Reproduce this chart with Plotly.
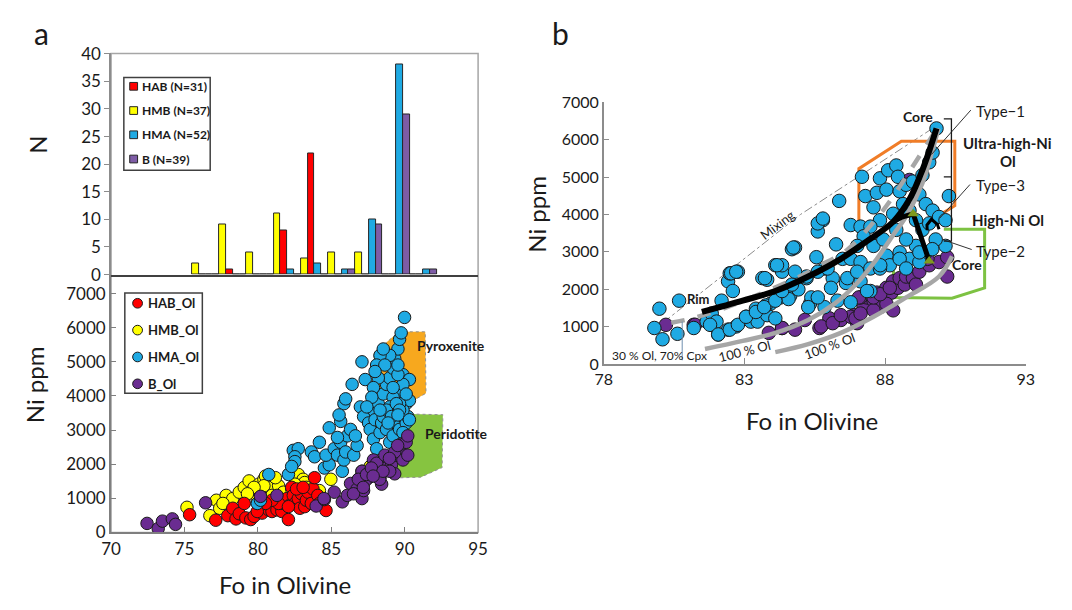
import plotly.graph_objects as go

W, H = 1072, 610
FONT = "Lato, 'Open Sans', sans-serif"

# ---------------- Panel a (top): histogram of Fo ----------------
hist_bins = [0, 1, 2, 3, 4, 5, 6, 7, 8]
hist_hmb = [2, 9, 4, 11, 3, 4, 4, 0, 0]
hist_hab = [0, 1, 0, 8, 22, 0, 0, 0, 0]
hist_hma = [0, 0, 0, 1, 2, 1, 10, 38, 1]
hist_b = [0, 0, 0, 0, 0, 1, 9, 29, 1]
hist_legend = ["HAB (N=31)", "HMB (N=37)", "HMA (N=52)", "B (N=39)"]

# ---------------- Panel a (bottom): Ni vs Fo ----------------
hab_fo = [75.35, 77.13, 77.95, 78.29, 78.51, 78.73, 79.07, 79.18, 79.51, 79.74,
          80.18, 80.29, 80.74, 80.96, 81.3, 81.63, 81.74, 81.97, 82.08, 82.19,
          82.3, 82.41, 82.52, 82.75, 82.86, 82.97, 83.19, 83.3, 83.41, 83.64,
          83.75, 83.86, 84.08, 84.19, 84.64, 82.63, 83.08, 81.41, 80.96, 80.52,
          79.96, 82.08]
hab_ni = [519, 358, 491, 708, 396, 547, 849, 425, 377, 472,
          755, 566, 660, 613, 660, 613, 849, 991, 377, 802,
          1321, 1085, 849, 991, 708, 1132, 755, 943, 1179, 849,
          1274, 1604, 1085, 849, 642, 1274, 1321, 849, 943, 849,
          613, 755]

hmb_fo = [75.17, 76.73, 77.17, 77.4, 77.84, 78.29, 78.73, 79.07, 79.4, 80.07,
          80.41, 80.52, 80.74, 80.96, 81.41, 81.74, 82.3, 82.75, 83.08, 84.19,
          84.97, 87.09, 86.87, 87.65, 80.52, 79.96, 83.19, 82.52, 81.19, 80.41,
          79.74, 79.29, 77.62, 83.3]
hmb_ni = [736, 491, 943, 708, 1085, 991, 1179, 1321, 1509, 1415,
          1557, 1651, 1321, 1085, 1368, 1179, 1274, 1698, 1557, 1226,
          1557, 1792, 1557, 1934, 849, 943, 1462, 1415, 1604, 1368,
          1321, 1132, 849, 1321]

hma_fo = [79.96, 80.74, 80.18, 82.08, 82.41, 82.75, 82.52, 82.52, 82.3, 83.64,
          83.86, 84.19, 84.53, 84.86, 84.64, 85.2, 85.42, 85.64, 85.75, 85.86,
          85.98, 86.09, 86.31, 86.53, 86.76, 86.64, 85.42, 84.86, 85.64, 85.86,
          85.98, 85.53, 86.42, 87.09, 87.31, 86.98, 87.2, 87.54, 87.65, 87.87,
          87.98, 87.87, 88.09, 88.32, 88.43, 88.54, 88.76, 88.98, 89.21, 89.43,
          89.65, 89.88, 90.1, 90.21, 88.2, 88.54, 88.76, 88.98, 89.21, 89.32,
          89.54, 89.65, 89.76, 89.99, 88.98, 88.32, 88.09, 88.65, 88.54, 88.2,
          87.87, 87.98, 89.43, 89.76, 90.1, 89.88, 90.32, 90.32, 89.88, 89.65,
          89.21, 88.98, 88.76, 88.32, 87.76, 87.42, 89.43, 89.88, 89.54, 89.54,
          89.21, 89.1, 89.65, 90.1, 88.87, 89.54, 89.88, 90.32]
hma_ni = [849, 1698, 943, 1698, 2406, 2453, 2217, 2075, 1934, 2358,
          2217, 2642, 1887, 1981, 2264, 2453, 2264, 2642, 1792, 2123,
          2358, 2830, 3019, 2264, 2547, 2830, 2783, 3066, 3255, 3774,
          3915, 3443, 4340, 5000, 4481, 3679, 3396, 3208, 3019, 3585,
          3302, 2736, 2453, 2925, 3208, 3396, 3019, 2642, 2830, 3208,
          3019, 3396, 3208, 3396, 3774, 4057, 4340, 4528, 4811, 5094,
          5377, 5660, 5849, 6302, 5189, 5189, 4906, 4906, 5377, 4528,
          4245, 4717, 4151, 4057, 3774, 4623, 4481, 3868, 3585, 3774,
          3962, 3679, 3585, 3585, 3962, 3679, 3774, 4340, 4623, 4906,
          4245, 3396, 3585, 4057, 3208, 3443, 2925, 3302]

b_fo = [72.45, 73.21, 73.5, 74.17, 74.39, 76.44, 80.18, 81.3, 83.97, 84.53,
        85.2, 85.75, 86.09, 86.31, 86.76, 87.09, 87.2, 87.09, 87.65, 87.87,
        88.2, 88.43, 88.32, 88.54, 88.76, 88.98, 89.1, 89.32, 89.43, 89.65,
        89.76, 89.88, 90.1, 90.21, 90.21, 88.09, 88.65, 87.65, 87.54, 87.31,
        88.98, 89.32, 84.5, 86.51, 86.84, 87.18, 87.4, 87.73, 88.3, 88.52,
        88.96, 89.52, 87.85]
b_ni = [264, 113, 330, 396, 236, 868, 1057, 1085, 774, 962,
        1179, 896, 1085, 1434, 1274, 991, 1226, 1792, 1651, 2123,
        1840, 1415, 1604, 2075, 1887, 2217, 1981, 1717, 2264, 2406,
        2594, 2123, 2642, 2830, 2264, 2028, 2264, 1792, 1604, 1509,
        1792, 2358, 991, 1132, 1557, 1321, 1698, 1887, 1557, 1793,
        2170, 2547, 1651]
scatter_legend = ["HAB_Ol", "HMB_Ol", "HMA_Ol", "B_Ol"]

pyx_fo = [87.9, 87.9, 89.6, 91.4, 91.45, 90.6, 88.8]
pyx_ni = [4250, 5250, 5880, 5880, 4080, 3870, 3870]
per_fo = [90.4, 92.6, 92.55, 91.1, 89.65, 89.3, 89.9]
per_ni = [3470, 3450, 1900, 1620, 1600, 2300, 3100]

# ---------------- Panel b ----------------
pb_hma_fo = [79.98, 80.68, 79.80, 80.09, 80.62, 81.2, 81.66, 81.84, 82.07, 82.19,
             82.42, 82.48, 82.77, 82.59, 82.42, 82.71, 83.06, 83.23, 83.35, 83.47,
             83.64, 83.81, 83.93, 84.1, 83.64, 83.81, 84.1, 84.34, 84.28, 84.63,
             84.69, 81.84, 82.01, 83.41, 83.76,
             84.8, 85.61, 85.79, 86.37, 85.56, 86.26, 86.49, 86.78, 87.13, 87.18,
             87.3, 87.59, 87.71, 87.82, 88.11, 88.4, 88.46, 88.05, 87.82, 87.48,
             87.24, 87.01, 86.78, 87.13, 87.48, 87.59, 87.94, 88.05, 88.17, 87.82,
             87.48, 87.13, 86.61, 86.14, 85.85, 85.21, 84.92, 84.57, 85.33, 85.38,
             84.34, 88.52, 88.75, 88.99, 89.22, 89.45, 89.69, 88.87, 89.1, 89.33,
             89.57, 89.92, 90.15, 90.27, 90.15, 89.8, 89.45, 89.1, 88.75, 88.52,
             88.87, 89.22, 88.4, 88.29, 88.64, 89.33, 89.57, 89.69, 89.83, 85.85,
             86.31, 86.78,
             81.78, 82.07, 82.48, 82.77, 83.06, 83.41, 83.7, 84.1, 84.34, 84.69,
             85.21, 85.61, 85.96, 86.08, 85.61, 85.27, 86.66, 87.01, 87.36, 87.83,
             88.52, 88.75, 89.22, 89.68, 84.74, 85.61, 85.79, 84.8, 84.16, 83.73,
             82.53, 82.71]
pb_hma_ni = [1477, 1692, 961, 659, 806, 961, 1132, 1046, 788, 1692,
             2209, 2423, 2467, 1951, 917, 1003, 1261, 1132, 1305, 1132,
             1477, 1305, 1610, 1219, 2295, 2252, 2640, 2467, 1778, 1821,
             3069, 1348, 1132, 1477, 1563,
             3113, 3544, 3844, 4361, 2855, 3198, 2811, 3715, 3673, 5006,
             4490, 4189, 4577, 4964, 5179, 5308, 5006, 4662, 3844, 3673,
             3415, 3157, 2811, 2725, 2553, 3157, 3329, 2897, 2639, 2553,
             1950, 2209, 2166, 2294, 2553, 2294, 1994, 1736, 1607, 1779,
             2639, 4619, 4792, 4878, 4533, 4275, 4102, 4102, 3844, 3586,
             3758, 3931, 3844, 4490, 3157, 3329, 2984, 3157, 3329, 2984,
             2811, 2725, 3586, 4017, 4275, 5050, 5394, 5653, 6299, 1519,
             1692, 1649,
             1046, 788, 917, 1046, 1261, 1390, 1519, 1692, 1950, 2122,
             2338, 2467, 2553, 2036, 1779, 1519, 2295, 2467, 1950, 2640,
             2811, 2553, 2984, 3070, 3113, 3759, 3888, 2467, 2640, 2295,
             2424, 2467]

pb_b_fo = [84.34, 84.8, 85.15, 85.67, 86.02, 86.43, 86.9, 87.01, 87.24, 87.36,
           87.59, 87.71, 87.94, 88.05, 88.23, 88.29, 88.46, 88.52, 88.7, 88.75,
           88.99, 89.1, 89.22, 89.57, 89.92, 90.21, 90.21, 88.29, 87.82, 87.59,
           88.05, 87.13, 86.78, 89.51, 88.87,
           80.21, 81.2, 83.87, 84.34, 85.73, 86.14, 86.43, 86.95, 87.13, 87.07,
           87.59, 87.83, 88.17, 81.25]
pb_b_ni = [961, 917, 1175, 961, 1219, 1175, 1305, 1090, 1519, 1779,
           1692, 1907, 1779, 2037, 1907, 2209, 2037, 2294, 2123, 2338,
           2294, 2123, 2467, 2639, 2725, 2855, 2338, 1433, 1519, 1433,
           1607, 1779, 1262, 2811, 4921,
           1046, 1046, 831, 961, 1003, 1090, 1305, 1219, 1348, 1779,
           1779, 1865, 2036, 1046]

uhni_fo = [89.92, 90.48, 90.48, 88.58, 87.07, 87.07]
uhni_ni = [3973, 4232, 5955, 5955, 5223, 3700]
hni_fo = [88.3, 88.3, 90.38, 91.54, 91.54, 90.09]
hni_ni = [2600, 1779, 1760, 2036, 3604, 3604]

mix_fo = [80.1, 85.0, 89.75]
mix_ni = [1100, 4000, 6330]
cpx_fo = [80.4, 81.3, 82.5, 83.8, 85.0, 85.6, 86.65, 87.71, 88.17, 88.7, 89.3, 89.85]
cpx_ni = [1100, 1250, 1550, 1950, 2350, 2600, 3050, 3900, 4350, 4950, 5650, 6300]
ol1_fo = [81.6, 82.94, 84.1, 85.27, 86.2, 87.01, 87.71, 88.29, 88.75, 89.33, 89.68, 89.9]
ol1_ni = [400, 615, 831, 1175, 1607, 2166, 2811, 3450, 3950, 4835, 5696, 6300]
ol2_fo = [84.1, 85.27, 86.43, 87.59, 88.75, 89.92, 90.38]
ol2_ni = [315, 530, 831, 1261, 1778, 2338, 2880]
type1_fo = [81.49, 82.94, 84.1, 85.27, 86.43, 87.36, 88.29, 88.87, 89.28, 89.57, 89.83]
type1_ni = [1390, 1692, 1950, 2338, 2811, 3286, 3803, 4404, 5094, 5696, 6300]
type3_fo = [88.29, 88.6, 89.0, 89.57]
type3_ni = [3803, 3930, 4017, 2750]
zig_fo = [89.5, 89.49, 89.65, 89.86, 89.92]
zig_ni = [3580, 3715, 3870, 3733, 3600]
tri_fo = [89.0, 89.57]
tri_ni = [4017, 2750]

# colours
C_RED, C_YEL, C_BLU, C_PUR = "#FF0000", "#FFFF00", "#1FAAE3", "#6A2C91"
C_PUR_H = "#7E5CA6"
C_GRAY = "#A6A6A6"
INK = "#1a1a1a"


def px_x(p):
    return p / W


def px_y(p):
    return 1 - p / H


fig = go.Figure()

# ---- histogram (slot order inside each bin: HMB, HAB, HMA, B) ----
hist_series = [("HMB", hist_hmb, C_YEL), ("HAB", hist_hab, C_RED),
               ("HMA", hist_hma, C_BLU), ("B", hist_b, C_PUR_H)]
for key, vals, col in hist_series:
    fig.add_trace(go.Bar(x=hist_bins, y=vals, name=key, xaxis="x", yaxis="y", showlegend=False,
                         marker=dict(color=col, line=dict(color="#262626", width=1))))

# ---- scatter a: fields ----
fig.add_trace(go.Scatter(x=pyx_fo, y=pyx_ni, fill="toself", fillcolor="#F7A81E", mode="lines",
                         line=dict(color="#909090", width=1, dash="dot"), xaxis="x2", yaxis="y2",
                         showlegend=False, hoverinfo="skip"))
fig.add_trace(go.Scatter(x=per_fo, y=per_ni, fill="toself", fillcolor="#86C440", mode="lines",
                         line=dict(color="#909090", width=1, dash="dot"), xaxis="x2", yaxis="y2",
                         showlegend=False, hoverinfo="skip"))

mk_a = lambda c: dict(size=12.5, color=c, line=dict(color=INK, width=1))
for name, fo, ni, col in [("HMB_Ol", hmb_fo, hmb_ni, C_YEL), ("HAB_Ol", hab_fo, hab_ni, C_RED),
                          ("HMA_Ol", hma_fo, hma_ni, C_BLU), ("B_Ol", b_fo, b_ni, C_PUR)]:
    fig.add_trace(go.Scatter(x=fo, y=ni, mode="markers", name=name, xaxis="x2", yaxis="y2",
                             marker=mk_a(col), showlegend=False))

# ---- panel b ----
def line_b(x, y, color, width, dash="solid", shape="linear"):
    fig.add_trace(go.Scatter(x=x, y=y, mode="lines", line=dict(color=color, width=width, dash=dash, shape=shape),
                             xaxis="x3", yaxis="y3", showlegend=False, hoverinfo="skip"))


line_b(mix_fo, mix_ni, "#8C8C8C", 1, "dashdot")
line_b(uhni_fo, uhni_ni, "#F07D28", 3)
line_b(hni_fo, hni_ni, "#7DC242", 3)
mk_b = lambda c: dict(size=13.5, color=c, line=dict(color=INK, width=1))
fig.add_trace(go.Scatter(x=pb_b_fo, y=pb_b_ni, mode="markers", marker=mk_b(C_PUR),
                         xaxis="x3", yaxis="y3", showlegend=False, name="B_Ol"))
fig.add_trace(go.Scatter(x=pb_hma_fo, y=pb_hma_ni, mode="markers", marker=mk_b(C_BLU),
                         xaxis="x3", yaxis="y3", showlegend=False, name="HMA_Ol"))
line_b(cpx_fo, cpx_ni, C_GRAY, 4.5, "dash", "spline")
line_b(ol1_fo, ol1_ni, C_GRAY, 4.5, "solid", "spline")
line_b(ol2_fo, ol2_ni, C_GRAY, 4.5, "solid", "spline")
line_b(type1_fo, type1_ni, "black", 6, "solid", "spline")
line_b(type3_fo, type3_ni, "black", 5)
line_b(zig_fo, zig_ni, "black", 3)
fig.add_trace(go.Scatter(x=tri_fo, y=tri_ni, mode="markers", marker=dict(symbol="triangle-up", size=10, color="#7F9A1E"),
                         xaxis="x3", yaxis="y3", showlegend=False, hoverinfo="skip"))
# pointer lines and bracket
line_b([80.79, 80.79], [1132, 98], "#6F8FAF", 1)
line_b([91.05, 89.65, None, 91.02, 89.95, None, 91.08, 90.03],
       [6790, 5600, None, 4800, 3900, None, 3060, 3330], "#333333", 1)
line_b([90.09, 90.36, 90.36, 90.09, None, 90.09, 90.36],
       [6557, 6557, 3286, 3286, None, 5006, 5006], INK, 1.3)

# ---------------- layout ----------------
XA = [px_x(103), px_x(477)]
font_a = dict(family=FONT, size=17, color=INK)
font_b = dict(family=FONT, size=16, color=INK)

shapes = [dict(type="rect", xref="paper", yref="paper", x0=XA[0], x1=XA[1], y0=px_y(540), y1=px_y(44),
               line=dict(color="#A6A6A6", width=1.5), layer="below")]
ann = []


def pa(text, x, y, size, angle=0, bold=False, xanchor="center"):
    ann.append(dict(text=f"<b>{text}</b>" if bold else text, xref="paper", yref="paper",
                    x=px_x(x), y=px_y(y), showarrow=False, textangle=angle,
                    font=dict(family=FONT, size=size, color=INK), xanchor=xanchor, yanchor="middle"))


def da(text, x, y, ax, size, angle=0, bold=True, xanchor="center"):
    ann.append(dict(text=f"<b>{text}</b>" if bold else text, xref=f"x{ax}", yref=f"y{ax}",
                    x=x, y=y, showarrow=False, textangle=angle,
                    font=dict(family=FONT, size=size, color=INK), xanchor=xanchor, yanchor="middle"))


# legend of the histogram (drawn as a box with swatches)
shapes.append(dict(type="rect", xref="paper", yref="paper", x0=px_x(116), x1=px_x(204),
                   y0=px_y(165), y1=px_y(69), line=dict(color="#404040", width=1.5), fillcolor="white"))
hist_colors = [C_RED, C_YEL, C_BLU, C_PUR_H]
for i, (lab, col) in enumerate(zip(hist_legend, hist_colors)):
    cy = 78 + i * 25.1
    shapes.append(dict(type="rect", xref="paper", yref="paper", x0=px_x(122), x1=px_x(130),
                       y0=px_y(cy + 4), y1=px_y(cy - 4), line=dict(color="#262626", width=1), fillcolor=col))
    pa(lab, 132, cy, 12, bold=True, xanchor="left")

# legend of the scatter
shapes.append(dict(type="rect", xref="paper", yref="paper", x0=px_x(117), x1=px_x(196),
                   y0=px_y(396), y1=px_y(292), line=dict(color="#404040", width=1.5), fillcolor="white"))
sc_colors = [C_RED, C_YEL, C_BLU, C_PUR]
for i, (lab, col) in enumerate(zip(scatter_legend, sc_colors)):
    cy = 302.7 + i * 27.8
    shapes.append(dict(type="circle", xref="paper", yref="paper", x0=px_x(125), x1=px_x(135),
                       y0=px_y(cy + 5), y1=px_y(cy - 5), line=dict(color=INK, width=1), fillcolor=col))
    pa(lab, 139, cy, 13, bold=True, xanchor="left")

fig.update_layout(
    width=W, height=H, margin=dict(l=0, r=0, t=0, b=0),
    paper_bgcolor="white", plot_bgcolor="rgba(0,0,0,0)",
    font=dict(family=FONT, color=INK), showlegend=False,
    barmode="group", bargap=0, bargroupgap=0,
    xaxis=dict(domain=XA, anchor="y", range=[-3.48, 10.02], showticklabels=False, ticks="",
               showgrid=False, zeroline=False, showline=True, linecolor="#404040", linewidth=1.5),
    yaxis=dict(domain=[px_y(273), px_y(44)], anchor="x", range=[0, 40.05], dtick=5, tick0=0,
               ticks="outside", ticklen=5, tickcolor="#8C8C8C", showgrid=False, zeroline=False,
               showline=True, linecolor="#8C8C8C", linewidth=1.5, tickfont=font_a),
    xaxis2=dict(domain=XA, anchor="y2", range=[70, 95], dtick=5, tick0=70, ticks="inside", ticklen=5,
                tickcolor="#7F7F7F", showgrid=False, zeroline=False, showline=True, linecolor="#7F7F7F",
                linewidth=2, tickfont=font_a),
    yaxis2=dict(domain=[px_y(540), px_y(273)], anchor="x2", range=[0, 7557], dtick=1000, tick0=0,
                ticks="inside", ticklen=5, tickcolor="#7F7F7F", showgrid=False, zeroline=False,
                showline=True, linecolor="#7F7F7F", linewidth=2, tickfont=font_a),
    xaxis3=dict(domain=[px_x(605), px_x(1035)], anchor="y3", range=[78, 93], dtick=5, tick0=78,
                ticks="inside", ticklen=6, tickcolor="#8C8C8C", showgrid=False, zeroline=False,
                showline=True, linecolor="#8C8C8C", linewidth=1.5, tickfont=font_b),
    yaxis3=dict(domain=[px_y(365.5), px_y(94.5)], anchor="x3", range=[0, 7000], dtick=1000, tick0=0,
                ticks="inside", ticklen=6, tickcolor="#8C8C8C", showgrid=False, zeroline=False,
                showline=True, linecolor="#8C8C8C", linewidth=1.5, tickfont=font_b),
)

pa("a", 31.7, 23, 30)
pa("b", 560.5, 23, 30)
pa("N", 28, 138, 24, -90)
pa("Ni ppm", 25, 387, 24, -90)
pa("Fo in Olivine", 280, 594, 24)
pa("Ni ppm", 537, 210, 24, -90)
pa("Fo in Olivine", 817, 424, 24)

da("Pyroxenite", 90.73, 5491, 2, 14, xanchor="left")
da("Peridotite", 91.24, 2906, 2, 14, xanchor="left")

da("30 % Ol, 70% Cpx", 79.99, 227, 3, 12, bold=False)
da("100 % Ol", 83.0, 357, 3, 13, angle=-14, bold=False)
da("100 % Ol", 86.02, 486, 3, 13, angle=-20, bold=False)
da("Mixing", 84.16, 3715, 3, 13, angle=-37, bold=False)
da("Rim", 81.37, 1736, 3, 13)
da("Core", 89.16, 6626, 3, 14)
da("Core", 90.9, 2656, 3, 14)
da("Type\u22121", 92.1, 6773, 3, 15, bold=False)
da("Type\u22123", 92.1, 4792, 3, 15, bold=False)
da("Type\u22122", 92.1, 3028, 3, 15, bold=False)
da("Ultra-high-Ni", 92.36, 5911, 3, 15)
da("Ol", 92.36, 5438, 3, 15)
da("High-Ni Ol", 92.36, 3844, 3, 15)

fig.update_layout(annotations=ann, shapes=shapes)
fig.write_html("out.html", config={"displayModeBar": False})
